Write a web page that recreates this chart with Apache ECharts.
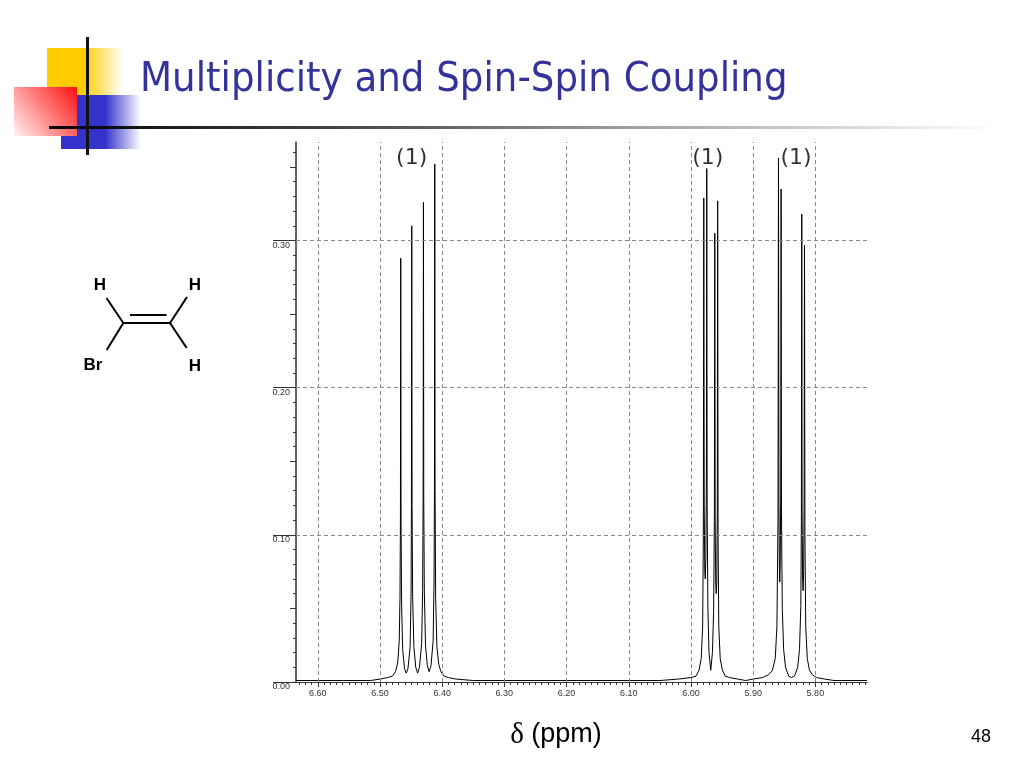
<!DOCTYPE html>
<html>
<head>
<meta charset="utf-8">
<script src="https://cdn.jsdelivr.net/npm/echarts@6/dist/echarts.min.js"></script>
<style>
html,body{margin:0;padding:0;background:#ffffff;}
#chart{width:1024px;height:768px;}
</style>
</head>
<body>
<div id="chart"></div>
<script>
// ---------- axis ticks / labels ----------
const xMajorTicks = [6.6, 6.5, 6.4, 6.3, 6.2, 6.1, 6.0, 5.9, 5.8];
const yMajorTicks = [0.0, 0.1, 0.2, 0.3];
const yGridValues = [0.1, 0.2, 0.3];
const yMidTicks = [0.05, 0.15, 0.25, 0.35];

// ---------- spectrum (ppm, intensity) ----------
const baselineLeft = [[6.635, 0.001], [6.560, 0.001], [6.515, 0.001]];
const multipletA = [
  [6.500, 0.002], [6.488, 0.003], [6.480, 0.004], [6.475, 0.007], [6.4715, 0.013],
  [6.4690, 0.028], [6.4678, 0.058], [6.4671, 0.110], [6.4666, 0.288], [6.4661, 0.110],
  [6.4652, 0.052], [6.4635, 0.022], [6.4605, 0.009], [6.4578, 0.006], [6.4550, 0.009],
  [6.4515, 0.024], [6.4500, 0.060], [6.4494, 0.120], [6.4489, 0.310], [6.4484, 0.120],
  [6.4475, 0.058], [6.4455, 0.024], [6.4425, 0.010], [6.4395, 0.006], [6.4365, 0.010],
  [6.4330, 0.026], [6.4314, 0.062], [6.4306, 0.125], [6.4301, 0.326], [6.4296, 0.125],
  [6.4287, 0.062], [6.4268, 0.025], [6.4238, 0.011], [6.4210, 0.007], [6.4180, 0.011],
  [6.4145, 0.028], [6.4131, 0.068], [6.4124, 0.130], [6.4119, 0.352], [6.4114, 0.130],
  [6.4105, 0.058], [6.4085, 0.024], [6.4055, 0.012], [6.4020, 0.007], [6.3970, 0.004],
  [6.3900, 0.003], [6.3780, 0.002]
];
const baselineMid = [[6.350, 0.001], [6.200, 0.001], [6.050, 0.001], [6.020, 0.002]];
const multipletB = [
  [6.000, 0.003], [5.992, 0.004], [5.987, 0.008], [5.9835, 0.016], [5.9812, 0.038],
  [5.9801, 0.100], [5.9794, 0.329], [5.9787, 0.120], [5.9778, 0.075], [5.9770, 0.070],
  [5.9760, 0.085], [5.9752, 0.140], [5.9746, 0.349], [5.9740, 0.120], [5.9728, 0.050],
  [5.9710, 0.020], [5.9682, 0.008], [5.9655, 0.020], [5.9636, 0.048], [5.9624, 0.110],
  [5.9617, 0.305], [5.9611, 0.110], [5.9602, 0.068], [5.9594, 0.060], [5.9585, 0.068],
  [5.9577, 0.115], [5.9571, 0.327], [5.9564, 0.100], [5.9553, 0.038], [5.9530, 0.016],
  [5.9495, 0.008], [5.9450, 0.004], [5.9380, 0.003], [5.9250, 0.002]
];
const baselineGap = [[5.912, 0.001], [5.900, 0.002]];
const multipletC = [
  [5.885, 0.003], [5.875, 0.005], [5.869, 0.008], [5.8645, 0.016], [5.8618, 0.038],
  [5.8601, 0.110], [5.8593, 0.356], [5.8586, 0.120], [5.8578, 0.075], [5.8572, 0.068],
  [5.8565, 0.080], [5.8557, 0.130], [5.8551, 0.335], [5.8545, 0.115], [5.8532, 0.050],
  [5.8510, 0.022], [5.8480, 0.010], [5.8430, 0.004], [5.8385, 0.003], [5.8335, 0.004],
  [5.8285, 0.010], [5.8255, 0.022], [5.8234, 0.052], [5.8225, 0.110], [5.8219, 0.318],
  [5.8213, 0.115], [5.8205, 0.070], [5.8197, 0.062], [5.8189, 0.075], [5.8181, 0.120],
  [5.8175, 0.297], [5.8168, 0.100], [5.8155, 0.038], [5.8130, 0.016], [5.8095, 0.008],
  [5.8050, 0.005], [5.7980, 0.003], [5.7850, 0.002]
];
const baselineRight = [[5.770, 0.001], [5.717, 0.001]];

// ---------- integration labels ----------
const integralText = ['(1)', '(1)', '(1)'];
const integralPpm = [6.449, 5.973, 5.831];
const integralY = [0.356, 0.356, 0.356];

// ---------- build ----------
const spectrum = [].concat(baselineLeft, multipletA, baselineMid, multipletB,
  baselineGap, multipletC, baselineRight);

const xMinorTicks = [];
for (let i = 572; i <= 663; i++) xMinorTicks.push(i / 100);
const yMinorTicks = [];
for (let i = 0; i <= 36; i++) yMinorTicks.push(i / 100);

const X_MIN = 5.717, X_MAX = 6.635, Y_MAX = 0.367;
const axisColor = '#333';
const tickFont = {fontFamily: 'Liberation Sans', fontSize: 9, color: '#333'};

const chart = echarts.init(document.getElementById('chart'), null, {renderer: 'canvas'});

function gradH(stops) {
  return new echarts.graphic.LinearGradient(0, 0, 1, 0, stops);
}

const option = {
  backgroundColor: '#ffffff',
  animation: false,
  grid: {left: 296, right: 157, top: 142, bottom: 86, containLabel: false},
  xAxis: [
    {
      type: 'value', min: X_MIN, max: X_MAX, inverse: true, position: 'bottom',
      axisLine: {show: true, onZero: false, lineStyle: {color: axisColor, width: 1}},
      axisTick: {show: true, customValues: xMinorTicks, length: 3, lineStyle: {color: axisColor}},
      axisLabel: {show: false},
      splitLine: {show: false}
    },
    {
      type: 'value', min: X_MIN, max: X_MAX, inverse: true, position: 'bottom',
      axisLine: {show: false, onZero: false},
      axisTick: {show: true, customValues: xMajorTicks, length: 5, lineStyle: {color: axisColor}},
      axisLabel: Object.assign({show: true, customValues: xMajorTicks, margin: 7,
        formatter: v => Number(v).toFixed(2)}, tickFont),
      splitLine: {show: false}
    }
  ],
  yAxis: [
    {
      type: 'value', min: 0, max: Y_MAX, position: 'left',
      axisLine: {show: true, onZero: false, lineStyle: {color: axisColor, width: 1.5}},
      axisTick: {show: true, customValues: yMinorTicks, length: 3, lineStyle: {color: axisColor}},
      axisLabel: {show: false},
      splitLine: {show: false}
    },
    {
      type: 'value', min: 0, max: Y_MAX, position: 'left',
      axisLine: {show: false, onZero: false},
      axisTick: {show: true, customValues: yMidTicks, length: 6, lineStyle: {color: axisColor}},
      axisLabel: {show: false},
      splitLine: {show: false}
    },
    {
      type: 'value', min: 0, max: Y_MAX, position: 'left',
      axisLine: {show: false, onZero: false},
      axisTick: {show: true, customValues: yMajorTicks, length: 23, lineStyle: {color: axisColor}},
      axisLabel: Object.assign({show: true, customValues: yMajorTicks, margin: 6,
        verticalAlign: 'top', formatter: v => Number(v).toFixed(2)}, tickFont),
      splitLine: {show: false}
    }
  ],
  series: [
    {
      name: 'grid', type: 'line', data: [], z: 1, silent: true,
      markLine: {
        silent: true, symbol: ['none', 'none'], animation: false,
        label: {show: false},
        lineStyle: {type: [4, 3], color: '#8a8a8a', width: 1},
        data: xMajorTicks.map(v => ({xAxis: v})).concat(yGridValues.map(v => ({yAxis: v})))
      }
    },
    {
      name: 'spectrum', type: 'line', data: spectrum, z: 3,
      showSymbol: false, symbol: 'none', smooth: false, sampling: null,
      lineStyle: {color: '#000', width: 1},
      emphasis: {disabled: true}
    },
    {
      name: 'integrals', type: 'scatter', z: 4, symbolSize: 0, silent: true,
      data: integralPpm.map((p, i) => ({value: [p, integralY[i]], name: integralText[i]})),
      label: {show: true, position: 'inside', formatter: p => p.name,
        fontFamily: 'DejaVu Sans', fontSize: 22, color: '#000'}
    }
  ],
  graphic: [
    // slide decoration
    {type: 'rect', shape: {x: 47, y: 48, width: 76, height: 47}, z: 1,
      style: {fill: gradH([{offset: 0, color: '#FFCC00'}, {offset: 0.48, color: '#FFCC00'}, {offset: 1, color: 'rgba(255,204,0,0)'}])}},
    {type: 'rect', shape: {x: 61, y: 95, width: 80, height: 54}, z: 2,
      style: {fill: gradH([{offset: 0, color: '#3333CC'}, {offset: 0.55, color: '#3333CC'}, {offset: 1, color: 'rgba(51,51,204,0)'}])}},
    {type: 'rect', shape: {x: 14, y: 87, width: 63, height: 49}, z: 3,
      style: {fill: new echarts.graphic.LinearGradient(1, 0, 0, 1, [{offset: 0, color: '#FF1010'}, {offset: 0.5, color: '#FF8080'}, {offset: 1, color: '#FFF4F4'}])}},
    {type: 'rect', shape: {x: 49, y: 126, width: 951, height: 3}, z: 4,
      style: {fill: gradH([{offset: 0, color: '#000'}, {offset: 0.3, color: '#444'}, {offset: 0.65, color: '#aaa'}, {offset: 1, color: '#fff'}])}},
    {type: 'rect', shape: {x: 86, y: 37, width: 3, height: 118}, z: 5, style: {fill: '#111'}},
    // title
    {type: 'text', x: 140, y: 81, z: 6, scaleX: 0.93,
      style: {text: 'Multiplicity and Spin-Spin Coupling', fill: '#333399',
        font: '40px "DejaVu Sans"', verticalAlign: 'middle', align: 'left'}},
    // molecule
    {type: 'line', z: 6, shape: {x1: 106.5, y1: 298, x2: 123.3, y2: 323}, style: {stroke: '#000', lineWidth: 2}},
    {type: 'line', z: 6, shape: {x1: 123.3, y1: 323, x2: 170, y2: 323}, style: {stroke: '#000', lineWidth: 2}},
    {type: 'line', z: 6, shape: {x1: 130, y1: 315, x2: 166.5, y2: 315}, style: {stroke: '#000', lineWidth: 2}},
    {type: 'line', z: 6, shape: {x1: 170, y1: 323, x2: 187, y2: 297}, style: {stroke: '#000', lineWidth: 2}},
    {type: 'line', z: 6, shape: {x1: 123.3, y1: 323, x2: 106.7, y2: 350}, style: {stroke: '#000', lineWidth: 2}},
    {type: 'line', z: 6, shape: {x1: 170, y1: 323, x2: 186.7, y2: 348}, style: {stroke: '#000', lineWidth: 2}},
    {type: 'text', x: 100, y: 285, z: 6, style: {text: 'H', fill: '#000', font: 'bold 17px "Liberation Sans"', align: 'center', verticalAlign: 'middle'}},
    {type: 'text', x: 195, y: 285, z: 6, style: {text: 'H', fill: '#000', font: 'bold 17px "Liberation Sans"', align: 'center', verticalAlign: 'middle'}},
    {type: 'text', x: 93, y: 365, z: 6, style: {text: 'Br', fill: '#000', font: 'bold 17px "Liberation Sans"', align: 'center', verticalAlign: 'middle'}},
    {type: 'text', x: 195, y: 366, z: 6, style: {text: 'H', fill: '#000', font: 'bold 17px "Liberation Sans"', align: 'center', verticalAlign: 'middle'}},
    // axis title
    {type: 'text', x: 556, y: 735, z: 6,
      style: {text: '{d|δ} (ppm)', align: 'center', verticalAlign: 'middle', fill: '#000',
        font: '27px "Liberation Sans"',
        rich: {d: {fontFamily: 'Liberation Serif', fontSize: 29, fill: '#000'}}}},
    // page number
    {type: 'text', x: 981, y: 737, z: 6,
      style: {text: '48', align: 'center', verticalAlign: 'middle', fill: '#000', font: '18px "Liberation Sans"'}}
  ]
};

chart.setOption(option);
</script>
</body>
</html>
